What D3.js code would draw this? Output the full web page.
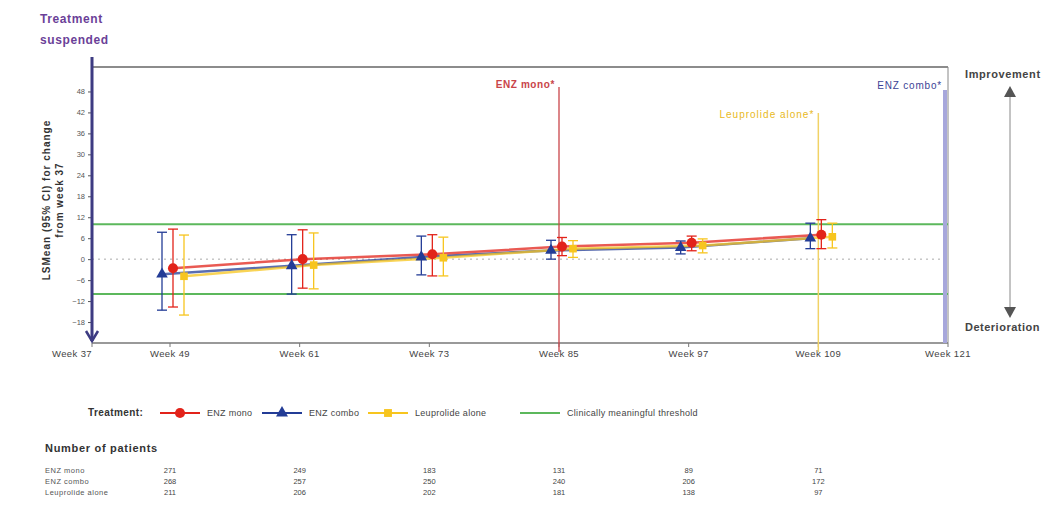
<!DOCTYPE html>
<html lang="en">
<head>
<meta charset="utf-8">
<title>LSMean change from week 37</title>
<script src="https://d3js.org/d3.v7.min.js"></script>
<style>
  body { margin: 0; background: #fff; }
  svg { font-family: "Liberation Sans", Arial, sans-serif; }
  .ytick text { font-size: 7.5px; fill: #555; }
  .xtick text { font-size: 9.5px; fill: #444; letter-spacing: 0.4px; }
</style>
</head>
<body>
<script>
// Data
var weeks = [49, 61, 73, 85, 97, 109];
var weekLabels = ["Week 37", "Week 49", "Week 61", "Week 73", "Week 85", "Week 97", "Week 109", "Week 121"];
var yTicks = [-18, -12, -6, 0, 6, 12, 18, 24, 30, 36, 42, 48];

var enzMono = [-2.6, 0, 1.4, 3.6, 4.7, 7];
var enzMonoLo = [-13.7, -8.3, -4.8, 1, 2.4, 3];
var enzMonoHi = [8.6, 8.4, 7, 6.2, 6.6, 11.3];

var enzCombo = [-4.3, -1.9, 0.6, 2.5, 3.3, 6];
var enzComboLo = [-14.6, -10, -4.5, 0, 1.5, 3];
var enzComboHi = [7.7, 7, 6.6, 5.4, 5.2, 10.3];

var leup = [-4.9, -1.7, 0.4, 3, 3.9, 6.4];
var leupLo = [-16, -8.5, -4.8, 0.5, 1.8, 3.2];
var leupHi = [6.9, 7.5, 6.3, 5.3, 5.8, 10.3];

var threshold = [-10, 10];

var patientRows = ["ENZ mono", "ENZ combo", "Leuprolide alone"];
var nMono = [271, 249, 183, 131, 89, 71];
var nCombo = [268, 257, 250, 240, 206, 172];
var nLeup = [211, 206, 202, 181, 138, 97];

var width = 1053, height = 513;
var pLeft = 92, pRight = 948, pTop = 67, pBottom = 343;

var svg = d3.select("body").append("svg")
    .attr("width", width)
    .attr("height", height);

var xScale = d3.scaleLinear().domain([49, 121]).range([170, pRight]);
var yScale = d3.scaleLinear().domain([-24, 55]).range([pBottom, pTop]);

var red = "#e2231a", blue = "#233c96", yellow = "#f7c51e", green = "#5cb85c";

// frame
svg.append("line").attr("x1", pLeft).attr("x2", pRight).attr("y1", pTop).attr("y2", pTop)
    .attr("stroke", "#666").attr("stroke-width", 1.5);
svg.append("line").attr("x1", pRight).attr("x2", pRight).attr("y1", pTop).attr("y2", pBottom)
    .attr("stroke", "#888").attr("stroke-width", 1);
svg.append("line").attr("x1", pLeft).attr("x2", pRight).attr("y1", pBottom).attr("y2", pBottom)
    .attr("stroke", "#777").attr("stroke-width", 1.5);

// x ticks
var xt = svg.append("g").attr("class", "xtick");
var tickXs = [pLeft].concat(weeks.map(xScale)).concat([xScale(121)]);
tickXs.forEach(function(x, i) {
    xt.append("line").attr("x1", x).attr("x2", x).attr("y1", pBottom).attr("y2", pBottom + 4)
        .attr("stroke", "#777");
    xt.append("text").attr("x", i === 0 ? x - 20 : x).attr("y", pBottom + 14)
        .attr("text-anchor", "middle").text(weekLabels[i]);
});

// y axis
var yAxis = d3.axisLeft(yScale).tickValues(yTicks).tickSize(4).tickSizeOuter(0);
var yg = svg.append("g").attr("class", "ytick").attr("transform", "translate(" + pLeft + ",0)").call(yAxis);
yg.select(".domain").remove();
yg.selectAll("line").attr("stroke", "#555");

// threshold + zero lines
svg.selectAll("line.thr").data(threshold).enter().append("line").attr("class", "thr")
    .attr("x1", pLeft).attr("x2", pRight)
    .attr("y1", function(d) { return yScale(d); }).attr("y2", function(d) { return yScale(d); })
    .attr("stroke", green).attr("stroke-width", 2);
svg.append("line").attr("x1", pLeft).attr("x2", pRight).attr("y1", yScale(0)).attr("y2", yScale(0))
    .attr("stroke", "#aaa").attr("stroke-dasharray", "2,4");

// vertical reference lines
svg.append("line").attr("x1", xScale(85)).attr("x2", xScale(85)).attr("y1", 87).attr("y2", pBottom + 9)
    .attr("stroke", "#c9444a").attr("stroke-width", 1.3);
svg.append("text").attr("x", xScale(85) - 4).attr("y", 88).attr("text-anchor", "end")
    .attr("font-size", 10).attr("font-weight", "bold").attr("letter-spacing", 0.6)
    .attr("fill", "#c9444a").text("ENZ mono*");
svg.append("line").attr("x1", xScale(109)).attr("x2", xScale(109)).attr("y1", 113).attr("y2", pBottom + 9)
    .attr("stroke", "#f1d266").attr("stroke-width", 1.5);
svg.append("text").attr("x", xScale(109) - 4).attr("y", 118).attr("text-anchor", "end")
    .attr("font-size", 10).attr("letter-spacing", 1).attr("fill", "#e8b923").text("Leuprolide alone*");
svg.append("line").attr("x1", xScale(121) - 3).attr("x2", xScale(121) - 3).attr("y1", 90).attr("y2", pBottom)
    .attr("stroke", "#a7a7db").attr("stroke-width", 4);
svg.append("text").attr("x", xScale(121) - 6).attr("y", 89).attr("text-anchor", "end")
    .attr("font-size", 10).attr("letter-spacing", 0.8).attr("fill", "#3c4396").text("ENZ combo*");

// left axis line with arrow
svg.append("line").attr("x1", pLeft).attr("x2", pLeft).attr("y1", 57).attr("y2", pBottom - 2)
    .attr("stroke", "#3d3b82").attr("stroke-width", 3);
svg.append("path").attr("d", "M" + (pLeft - 6) + "," + (pBottom - 12) + "L" + pLeft + "," + (pBottom - 2) + "L" + (pLeft + 6) + "," + (pBottom - 12))
    .attr("fill", "none").attr("stroke", "#3d3b82").attr("stroke-width", 2.5);

// series
var series = [
    {name: "ENZ combo", v: enzCombo, lo: enzComboLo, hi: enzComboHi, color: blue, off: -8, shape: d3.symbolTriangle},
    {name: "ENZ mono", v: enzMono, lo: enzMonoLo, hi: enzMonoHi, color: red, off: 3, shape: d3.symbolCircle},
    {name: "Leuprolide alone", v: leup, lo: leupLo, hi: leupHi, color: yellow, off: 14, shape: d3.symbolSquare}
];

var line = d3.line()
    .x(function(d) { return d.x; })
    .y(function(d) { return yScale(d.y); });

function points(s) {
    return weeks.map(function(w, i) { return {x: xScale(w) + s.off, y: s.v[i], lo: s.lo[i], hi: s.hi[i]}; });
}

series.forEach(function(s) {
    svg.append("path").datum(points(s)).attr("d", line).attr("fill", "none")
        .attr("stroke", s.color).attr("stroke-width", 2.5).attr("opacity", 0.75);
});

series.forEach(function(s) {
    var g = svg.append("g");
    var pts = points(s);
    g.selectAll("line.eb").data(pts).enter().append("line")
        .attr("x1", function(d) { return d.x; }).attr("x2", function(d) { return d.x; })
        .attr("y1", function(d) { return yScale(d.lo); }).attr("y2", function(d) { return yScale(d.hi); })
        .attr("stroke", s.color).attr("stroke-width", 1.3);
    ["lo", "hi"].forEach(function(k) {
        g.selectAll("line.cap" + k).data(pts).enter().append("line")
            .attr("x1", function(d) { return d.x - 5; }).attr("x2", function(d) { return d.x + 5; })
            .attr("y1", function(d) { return yScale(d[k]); }).attr("y2", function(d) { return yScale(d[k]); })
            .attr("stroke", s.color).attr("stroke-width", 1.3);
    });
    g.selectAll("path.m").data(pts).enter().append("path")
        .attr("d", d3.symbol().type(s.shape).size(s.shape === d3.symbolCircle ? 80 : 58))
        .attr("transform", function(d) { return "translate(" + d.x + "," + yScale(d.y) + ")"; })
        .attr("fill", s.color);
});

// right annotation
svg.append("text").attr("x", 965).attr("y", 78).attr("font-size", 11).attr("font-weight", "bold")
    .attr("letter-spacing", 0.6).attr("fill", "#444").text("Improvement");
svg.append("text").attr("x", 965).attr("y", 331).attr("font-size", 11).attr("font-weight", "bold")
    .attr("letter-spacing", 0.5).attr("fill", "#444").text("Deterioration");
svg.append("line").attr("x1", 1010).attr("x2", 1010).attr("y1", 92).attr("y2", 312)
    .attr("stroke", "#888").attr("stroke-width", 1);
svg.append("path").attr("d", "M1004,97L1010,86L1016,97Z").attr("fill", "#555");
svg.append("path").attr("d", "M1004,307L1010,318L1016,307Z").attr("fill", "#555");

// titles
svg.append("text").attr("x", 40).attr("y", 23).attr("font-size", 12).attr("font-weight", "bold")
    .attr("letter-spacing", 0.6).attr("fill", "#6b3f98").text("Treatment");
svg.append("text").attr("x", 40).attr("y", 44).attr("font-size", 12).attr("font-weight", "bold")
    .attr("letter-spacing", 0.6).attr("fill", "#6b3f98").text("suspended");
var yt = svg.append("text").attr("transform", "translate(50,200) rotate(-90)")
    .attr("text-anchor", "middle").attr("font-size", 10).attr("font-weight", "bold")
    .attr("letter-spacing", 1).attr("fill", "#333");
yt.append("tspan").attr("x", 0).attr("dy", 0).text("LSMean (95% CI) for change");
yt.append("tspan").attr("x", 0).attr("dy", 13).text("from week 37");

// legend
var lg = svg.append("g").attr("transform", "translate(0,413)");
lg.append("text").attr("x", 88).attr("y", 3).attr("font-size", 10).attr("font-weight", "bold")
    .attr("letter-spacing", 0.4).attr("fill", "#333").text("Treatment:");
var legendItems = [
    {label: "ENZ mono", color: red, shape: d3.symbolCircle, x: 160},
    {label: "ENZ combo", color: blue, shape: d3.symbolTriangle, x: 262},
    {label: "Leuprolide alone", color: yellow, shape: d3.symbolSquare, x: 368},
    {label: "Clinically meaningful threshold", color: green, shape: null, x: 520}
];
legendItems.forEach(function(d) {
    lg.append("line").attr("x1", d.x).attr("x2", d.x + 40).attr("y1", 0).attr("y2", 0)
        .attr("stroke", d.color).attr("stroke-width", 2.2);
    if (d.shape) {
        lg.append("path").attr("d", d3.symbol().type(d.shape).size(d.shape === d3.symbolCircle ? 80 : 62))
            .attr("transform", "translate(" + (d.x + 20) + ",0)").attr("fill", d.color);
    }
    lg.append("text").attr("x", d.x + 47).attr("y", 3).attr("font-size", 9)
        .attr("letter-spacing", 0.3).attr("fill", "#444").text(d.label);
});

// number of patients table
svg.append("text").attr("x", 45).attr("y", 452).attr("font-size", 11).attr("font-weight", "bold")
    .attr("letter-spacing", 0.7).attr("fill", "#333").text("Number of patients");
var counts = [nMono, nCombo, nLeup];
patientRows.forEach(function(r, j) {
    var yy = 473 + j * 11;
    svg.append("text").attr("x", 45).attr("y", yy).attr("font-size", 7.5)
        .attr("letter-spacing", 0.5).attr("fill", "#555").text(r);
    svg.selectAll(null).data(counts[j]).enter().append("text")
        .attr("x", function(d, i) { return xScale(weeks[i]); })
        .attr("y", yy).attr("text-anchor", "middle").attr("font-size", 7.5).attr("fill", "#444")
        .text(function(d) { return d; });
});
</script>
</body>
</html>
